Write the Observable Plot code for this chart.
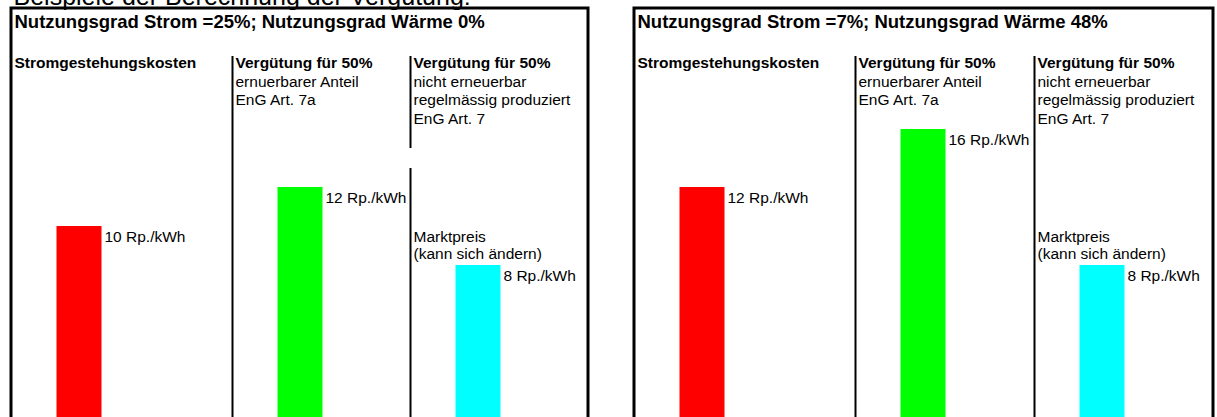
<!DOCTYPE html>
<html><head><meta charset="utf-8">
<script src="https://cdn.jsdelivr.net/npm/d3@7"></script>
<script src="https://cdn.jsdelivr.net/npm/@observablehq/plot@0.6"></script>
<style>html,body{margin:0;padding:0;background:#fff;overflow:hidden}</style>
</head><body><div id="chart"></div>
<script>
// ---- data ----
const pageTitle = "Beispiele der Berechnung der Vergütung:";
const panelTitles = [
  "Nutzungsgrad Strom =25%; Nutzungsgrad Wärme 0%",
  "Nutzungsgrad Strom =7%; Nutzungsgrad Wärme 48%"
];
const columnHeads = ["Stromgestehungskosten", "Vergütung für 50%", "Vergütung für 50%"];
const columnNotes = ["", "ernuerbarer Anteil\nEnG Art. 7a", "nicht erneuerbar\nregelmässig produziert\nEnG Art. 7"];
const valuesPanel1 = [10, 12, 8];
const valuesPanel2 = [12, 16, 8];
const unit = "Rp./kWh";
const marketNote = "Marktpreis\n(kann sich ändern)";
const marketColumn = 2;

// ---- styles ----
const barColors = ["#ff0000", "#00ff00", "#00ffff"];
const FONT = "'Liberation Sans', Arial, sans-serif";
const FS = 15.5;

// ---- tables built from the arrays ----
const panelValues = [valuesPanel1, valuesPanel2];
const panels = panelTitles.map((title, p) => ({p, title, left: p * 4, right: p * 4 + 3}));
const cols = [];
const bars = [];
panelValues.forEach((vals, p) => {
  columnHeads.forEach((head, c) => {
    cols.push({p, c, idx: p * 4 + c, head, note: columnNotes[c]});
    bars.push({p, c, idx: p * 4 + c, value: vals[c], label: `${vals[c]} ${unit}`});
  });
});
const dividers = cols.filter(d => d.c > 0);
const gapDivider = d => d.p === 0 && d.c === 2;
const market = bars.filter(d => d.c === marketColumn);

const noteLH = 1.2;
const chart = Plot.plot({
  width: 1217,
  height: 417,
  margin: 0,
  style: {fontFamily: FONT, background: "#fff", overflow: "visible"},
  x: {type: "linear", domain: [0, 1, 2, 3, 4, 5, 6, 7], range: [11, 232, 410, 588, 634, 855, 1034, 1213], axis: null},
  y: {type: "linear", domain: [0, 12, 16], range: [421, 187, 129], axis: null},
  color: {type: "ordinal", domain: [0, 1, 2], range: barColors},
  marks: [
    // bars
    Plot.ruleX(bars, {x: "idx", y1: 0, y2: "value", stroke: "c", strokeWidth: 45, dx: 67.5}),
    // dividers
    Plot.ruleX(dividers.filter(d => !gapDivider(d)), {x: "idx", insetTop: 56, stroke: "black", strokeWidth: 2}),
    Plot.ruleX(dividers.filter(gapDivider), {x: "idx", insetTop: 56, insetBottom: 269, stroke: "black", strokeWidth: 2}),
    Plot.ruleX(dividers.filter(gapDivider), {x: "idx", insetTop: 168, stroke: "black", strokeWidth: 2}),
    // panel boxes
    Plot.rect(panels, {x1: "left", x2: "right", insetTop: 8, insetBottom: -20, fill: "none", stroke: "black", strokeWidth: 3}),
    // page title (cut off at the top)
    Plot.text([pageTitle], {text: d => d, frameAnchor: "top-left", textAnchor: "start", lineAnchor: "bottom", dx: 13, dy: 4, fontSize: 25}),
    // panel titles
    Plot.text(panels, {x: "left", text: "title", frameAnchor: "top", textAnchor: "start", lineAnchor: "bottom", dx: 3, dy: 27, fontWeight: "bold", fontSize: 18.5}),
    // column heads
    Plot.text(cols, {x: "idx", text: "head", frameAnchor: "top", textAnchor: "start", lineAnchor: "bottom", dx: 3, dy: 67, fontWeight: "bold", fontSize: FS}),
    // column notes
    Plot.text(cols.filter(d => d.note), {x: "idx", text: "note", frameAnchor: "top", textAnchor: "start", lineAnchor: "top", lineHeight: noteLH, dx: 3, dy: 86 - 0.71 * noteLH * FS, fontSize: FS}),
    // value labels
    Plot.text(bars, {x: "idx", y: "value", text: "label", textAnchor: "start", lineAnchor: "bottom", dx: 93, dy: 15, fontSize: FS}),
    // market note
    Plot.text(market, {x: "idx", y: "value", text: () => marketNote, textAnchor: "start", lineAnchor: "bottom", lineHeight: 1.13, dx: 3, dy: -6.5, fontSize: FS})
  ]
});
document.getElementById("chart").appendChild(chart);
</script>
</body></html>
